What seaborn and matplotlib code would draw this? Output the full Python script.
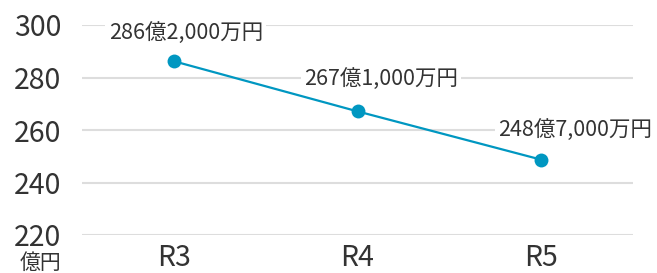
import matplotlib
matplotlib.use("Agg")
import matplotlib.pyplot as plt
import seaborn as sns
import pandas as pd

categories = ["R3", "R4", "R5"]
values = [286.2, 267.1, 248.7]
labels = ["286億2,000万円", "267億1,000万円", "248億7,000万円"]
y_ticks = [220, 240, 260, 280, 300]
unit_label = "億円"

sns.set_theme(style="white")
plt.rcParams['font.family'] = ['Noto Sans CJK JP', 'DejaVu Sans']

df = pd.DataFrame({"cat": categories, "val": values})

fig = plt.figure(figsize=(6.57, 2.73), dpi=100)
ax = fig.add_axes([82/657, 38/273, 551/657, 210/273])

color = "#0097c1"
sns.lineplot(data=df, x="cat", y="val", ax=ax, color=color, linewidth=1.6,
             marker="o", markersize=10, markeredgewidth=0, sort=False, zorder=3)

ax.set_xlim(-0.5, 2.5)
ax.set_ylim(220, 300)
ax.set_yticks(y_ticks)
ax.yaxis.grid(True, color="#dddddd", linewidth=1.5)
ax.xaxis.grid(False)
for s in ax.spines.values():
    s.set_visible(False)
ax.tick_params(axis="both", length=0, labelsize=20.5, colors="#333333")
ax.tick_params(axis="y", pad=15)
ax.tick_params(axis="x", pad=6)
ax.set_xlabel("")
ax.set_ylabel("")

offsets = [(8.6, 20.5), (17, 23), (24.5, 21.6)]
for i, (v, lab) in enumerate(zip(values, labels)):
    ax.annotate(lab, (i, v), xytext=offsets[i], textcoords="offset points",
                ha="center", va="center", fontsize=15.5, color="#333333",
                bbox=dict(boxstyle="square,pad=0.15", fc="white", ec="none"),
                zorder=4)

fig.text(41/657, 1 - 263/273, unit_label, ha="center", va="center",
         fontsize=15, color="#333333")

fig.savefig("out.png", dpi=100)
